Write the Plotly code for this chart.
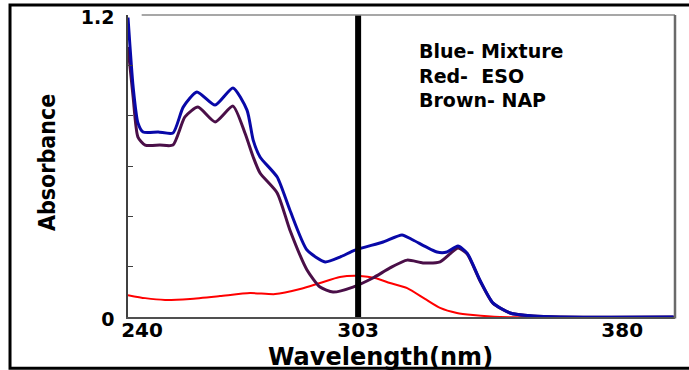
import plotly.graph_objects as go

# ---- data (wavelength nm, absorbance) ----
mix_wl = [235.9, 237.4, 238.8, 240.3, 244.7, 249.0, 252.0, 256.0, 261.3, 266.5, 270.6, 272.4,
          274.4, 279.4, 283.1, 288.1, 293.4, 297.7, 302.1, 310.3, 315.8, 319.0, 326.0, 328.9,
          332.1, 334.8, 338.5, 342.3, 347.3, 354.0, 361.9, 395.0]
mix_abs = [1.19, 0.914, 0.771, 0.735, 0.735, 0.731, 0.834, 0.894, 0.842, 0.910, 0.822, 0.703,
           0.636, 0.556, 0.425, 0.266, 0.219, 0.238, 0.266, 0.298, 0.326, 0.306, 0.258, 0.258,
           0.282, 0.254, 0.147, 0.056, 0.016, 0.004, 0.0, 0.0]

nap_wl = [235.9, 237.4, 238.8, 240.9, 245.2, 249.0, 252.5, 256.3, 261.3, 266.5, 270.0, 272.4,
          274.4, 279.4, 283.1, 288.1, 291.9, 295.7, 301.5, 307.3, 312.3, 317.3, 321.9, 326.9,
          332.1, 334.8, 338.5, 342.3, 347.3, 354.0, 361.9, 395.0]
nap_abs = [1.073, 0.874, 0.715, 0.683, 0.683, 0.683, 0.795, 0.834, 0.775, 0.838, 0.731, 0.636,
           0.572, 0.493, 0.346, 0.187, 0.119, 0.099, 0.119, 0.155, 0.195, 0.226, 0.215, 0.219,
           0.274, 0.250, 0.145, 0.055, 0.016, 0.004, 0.0, 0.0]

eso_wl = [235.9, 240.9, 246.7, 254.0, 262.7, 271.5, 278.8, 286.1, 291.9, 297.7, 303.6, 307.9,
          312.3, 317.3, 322.5, 326.9, 331.8, 336.5, 344.4, 395.4]
eso_abs = [0.087, 0.075, 0.068, 0.072, 0.083, 0.095, 0.091, 0.111, 0.135, 0.159, 0.163, 0.155,
           0.135, 0.115, 0.072, 0.036, 0.016, 0.008, 0.0, 0.0]

x_ticks = [240, 303, 380]
x_tick_labels = ["240", "303", "380"]
y_ticks = [0, 0.2, 0.4, 0.6, 0.8, 1.0, 1.2]
y_tick_labels = ["0", "", "", "", "", "", "1.2"]
marker_wl = 303
legend_lines = ["Blue- Mixture", "Red-&nbsp; ESO", "Brown- NAP"]

BOLD = "DejaVu Sans"

fig = go.Figure()
fig.add_trace(go.Scatter(x=eso_wl, y=eso_abs, mode="lines", name="ESO",
                         line=dict(color="#ff0000", width=2, shape="spline", smoothing=0.6)))
fig.add_trace(go.Scatter(x=nap_wl, y=nap_abs, mode="lines", name="NAP",
                         line=dict(color="#4a0f48", width=3, shape="spline", smoothing=0.6)))
fig.add_trace(go.Scatter(x=mix_wl, y=mix_abs, mode="lines", name="Mixture",
                         line=dict(color="#0808a8", width=3, shape="spline", smoothing=0.6)))

# vertical marker line
fig.add_shape(type="line", xref="x", yref="y", x0=marker_wl, x1=marker_wl, y0=-0.012, y1=1.2,
              line=dict(color="black", width=6))
# top and right frame of plot area
fig.add_shape(type="line", xref="paper", yref="paper", x0=0.025, x1=1, y0=1, y1=1,
              line=dict(color="#8a8a8a", width=1.5))
fig.add_shape(type="line", xref="paper", yref="paper", x0=1, x1=1, y0=-0.005, y1=1.0,
              line=dict(color="#6a6a6a", width=2.5))
# outer black border
fig.add_shape(type="rect", xref="paper", yref="paper", x0=-0.2157, x1=1.03, y0=-0.170, y1=1.033,
              line=dict(color="black", width=3), layer="below")

fig.add_annotation(text="<br>".join(legend_lines), xref="paper", yref="paper",
                   x=0.528, y=0.925, xanchor="left", yanchor="top", align="left",
                   showarrow=False, font=dict(family=BOLD, size=19, color="black", weight="bold"))
fig.add_annotation(text="Wavelength(nm)", xref="paper", yref="paper",
                   x=0.461, y=-0.131, xanchor="center", yanchor="middle", showarrow=False,
                   font=dict(family=BOLD, size=24, color="black", weight="bold"))
fig.add_annotation(text="Absorbance", xref="paper", yref="paper", textangle=-90,
                   x=-0.148, y=0.51, xanchor="center", yanchor="middle", showarrow=False,
                   font=dict(family="Liberation Sans Narrow, DejaVu Sans Condensed, sans-serif",
                             size=23, color="black", weight="bold"))

fig.update_layout(
    width=689, height=370,
    margin=dict(l=128, r=14, t=15, b=53, autoexpand=False),
    paper_bgcolor="white", plot_bgcolor="white",
    showlegend=False,
    xaxis=dict(range=[235.9, 395.4], tickvals=x_ticks, ticktext=x_tick_labels, automargin=False,
               showgrid=False, zeroline=False, showline=True, linecolor="#505050", linewidth=1.5,
               ticks="", ticklabelstandoff=-6,
               tickfont=dict(family=BOLD, size=20, color="black", weight="bold")),
    yaxis=dict(range=[0, 1.2], tickvals=y_ticks, ticktext=y_tick_labels, automargin=False,
               showgrid=False, zeroline=False, showline=True, linecolor="#404040", linewidth=1.5,
               ticks="inside", ticklen=5, tickcolor="#404040", ticklabelstandoff=8,
               ticklabelshift=2,
               tickfont=dict(family=BOLD, size=19, color="black", weight="bold")),
)

fig.write_html("out.html", config={"displayModeBar": False},
               post_script="document.body.style.margin='0';document.body.style.overflow='hidden';")
